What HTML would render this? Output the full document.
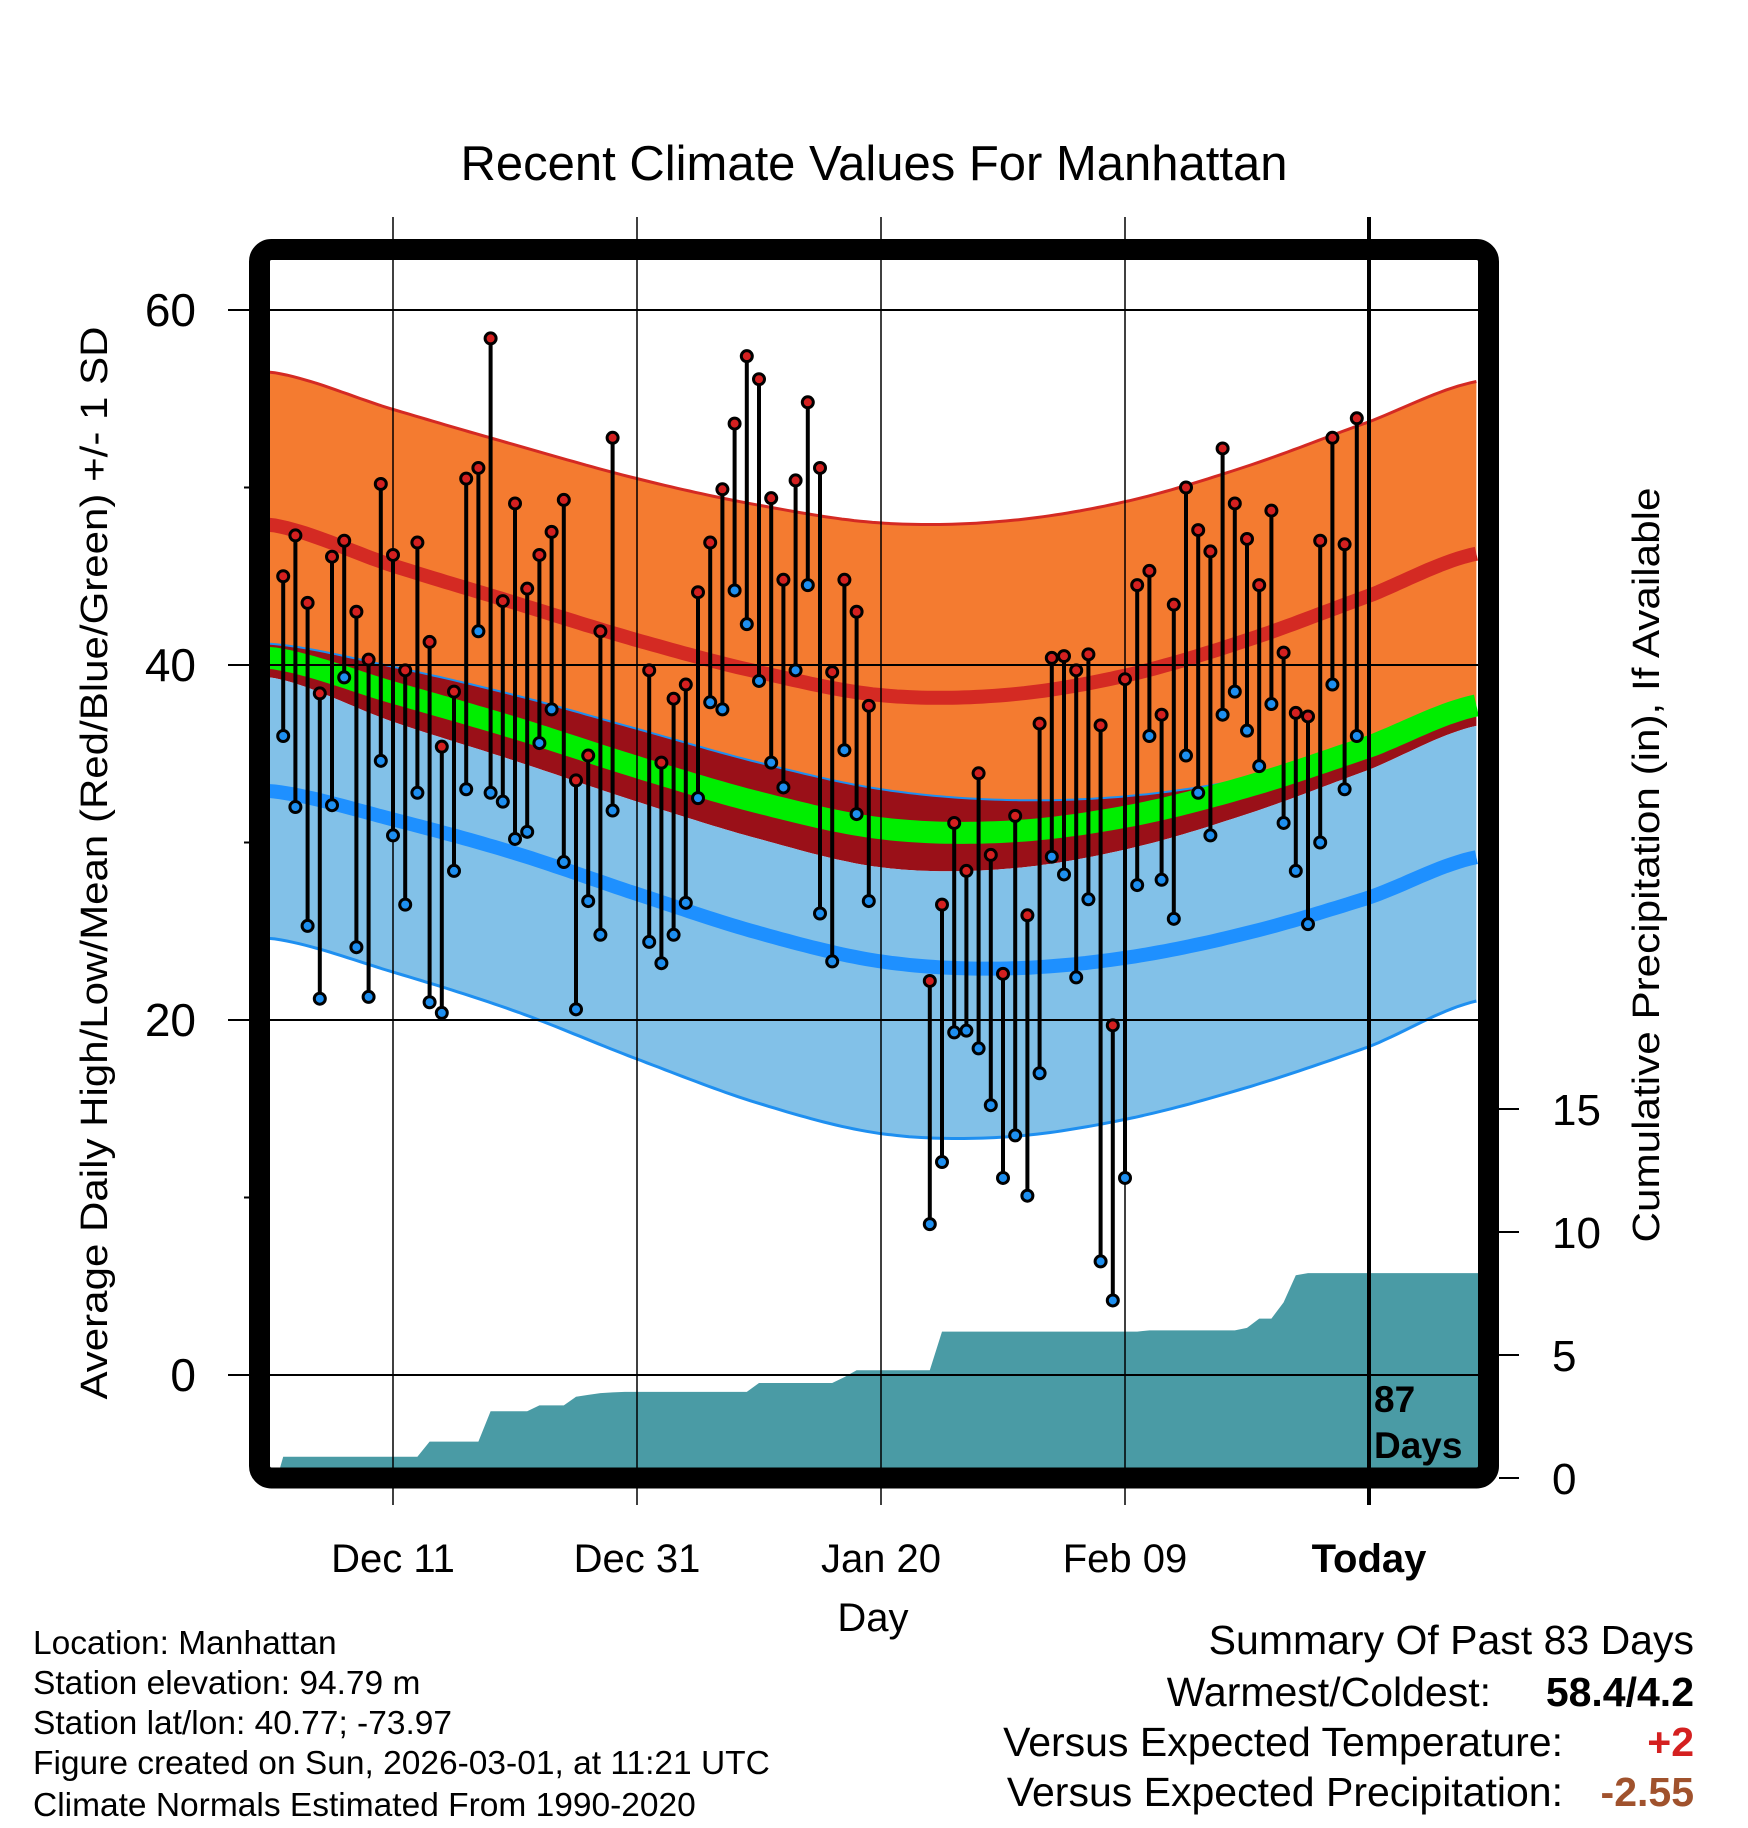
<!DOCTYPE html>
<html><head><meta charset="utf-8">
<style>
html,body{margin:0;padding:0;background:#fff;}
svg{display:block;font-family:"Liberation Sans",Arial,sans-serif;}
</style></head>
<body>
<svg id="chart" width="1748" height="1828" viewBox="0 0 1748 1828" xmlns="http://www.w3.org/2000/svg">
<defs><clipPath id="plotclip"><rect x="270" y="260" width="1208" height="1208"/></clipPath></defs>
<text x="874" y="180" font-size="49" text-anchor="middle">Recent Climate Values For Manhattan</text>
<g id="bands" clip-path="url(#plotclip)"></g>
<g id="grid"></g>
<g id="marks"></g>
<rect x="259.5" y="249.5" width="1229" height="1228.5" rx="12" fill="none" stroke="#000" stroke-width="21"/>
<g id="axes"></g>
<text x="1374" y="1412" font-size="37" font-weight="bold">87</text>
<text x="1374" y="1458" font-size="37" font-weight="bold">Days</text>
<text x="873" y="1631" font-size="40" text-anchor="middle">Day</text>
<text transform="translate(107,863) rotate(-90)" font-size="38" text-anchor="middle" textLength="1073" lengthAdjust="spacingAndGlyphs">Average Daily High/Low/Mean (Red/Blue/Green) +/- 1 SD</text>
<text transform="translate(1659,865) rotate(-90)" font-size="38" text-anchor="middle" textLength="755" lengthAdjust="spacingAndGlyphs">Cumulative Precipitation (in), If Available</text>
<g font-size="33.5">
<text x="33" y="1654">Location: Manhattan</text>
<text x="33" y="1694">Station elevation: 94.79 m</text>
<text x="33" y="1734">Station lat/lon: 40.77; -73.97</text>
<text x="33" y="1774">Figure created on Sun, 2026-03-01, at 11:21 UTC</text>
<text x="33" y="1816">Climate Normals Estimated From 1990-2020</text>
</g>
<g font-size="41">
<text x="1694" y="1654" text-anchor="end">Summary Of Past 83 Days</text>
<text x="1491" y="1706" text-anchor="end">Warmest/Coldest:</text>
<text x="1694" y="1706" text-anchor="end" font-weight="bold">58.4/4.2</text>
<text x="1563" y="1756" text-anchor="end">Versus Expected Temperature:</text>
<text x="1694" y="1756" text-anchor="end" font-weight="bold" fill="#d42020">+2</text>
<text x="1563" y="1806" text-anchor="end">Versus Expected Precipitation:</text>
<text x="1694" y="1806" text-anchor="end" font-weight="bold" fill="#a0522d">-2.55</text>
</g>
</svg>
<script>
// ---- data ----
const normDays = [-10, 0, 10, 20, 30, 40, 50, 60, 70, 80, 89];
const normalHigh = [47.9, 45.6, 43.5, 41.4, 39.6, 38.3, 38.3, 39.4, 41.4, 43.9, 46.3];
const highSD = [8.6, 8.8, 8.9, 9.1, 9.4, 9.7, 9.8, 9.8, 9.8, 9.8, 9.7];
const normalLow = [32.9, 31.3, 29.4, 27.1, 24.9, 23.3, 22.9, 23.5, 24.9, 26.9, 29.2];
const lowSD = [8.3, 8.6, 8.9, 9.3, 9.6, 9.7, 9.5, 9.1, 8.7, 8.4, 8.1];
const firstDay = -9; // days relative to Dec 11
const highs = [45,47.3,43.5,38.4,46.1,47,43,40.3,50.2,46.2,39.7,46.9,41.3,35.4,38.5,50.5,51.1,58.4,43.6,49.1,44.3,46.2,47.5,49.3,33.5,34.9,41.9,52.8,null,null,39.7,34.5,38.1,38.9,44.1,46.9,49.9,53.6,57.4,56.1,49.4,44.8,50.4,54.8,51.1,39.6,44.8,43,37.7,null,null,null,null,22.2,26.5,31.1,28.4,33.9,29.3,22.6,31.5,25.9,36.7,40.4,40.5,39.7,40.6,36.6,19.7,39.2,44.5,45.3,37.2,43.4,50,47.6,46.4,52.2,49.1,47.1,44.5,48.7,40.7,37.3,37.1,47,52.8,46.8,53.9];
const lows = [36,32,25.3,21.2,32.1,39.3,24.1,21.3,34.6,30.4,26.5,32.8,21,20.4,28.4,33,41.9,32.8,32.3,30.2,30.6,35.6,37.5,28.9,20.6,26.7,24.8,31.8,null,null,24.4,23.2,24.8,26.6,32.5,37.9,37.5,44.2,42.3,39.1,34.5,33.1,39.7,44.5,26,23.3,35.2,31.6,26.7,null,null,null,null,8.5,12,19.3,19.4,18.4,15.2,11.1,13.5,10.1,17,29.2,28.2,22.4,26.8,6.4,4.2,11.1,27.6,36,27.9,25.7,34.9,32.8,30.4,37.2,38.5,36.3,34.3,37.8,31.1,28.4,25.4,30,38.9,33,36];
const precip = [0.86,0.86,0.86,0.86,0.86,0.86,0.86,0.86,0.86,0.86,0.86,0.86,1.48,1.48,1.48,1.48,1.48,2.71,2.71,2.71,2.71,2.95,2.95,2.95,3.3,3.38,3.45,3.48,3.5,3.5,3.5,3.5,3.5,3.5,3.5,3.5,3.5,3.5,3.5,3.86,3.86,3.86,3.86,3.86,3.86,3.86,4.1,4.38,4.38,4.38,4.38,4.38,4.38,4.38,5.95,5.95,5.95,5.95,5.95,5.95,5.95,5.95,5.95,5.95,5.95,5.95,5.95,5.95,5.95,5.95,5.95,6.0,6.0,6.0,6.0,6.0,6.0,6.0,6.0,6.1,6.48,6.48,7.14,8.24,8.33,8.33,8.33,8.33,8.33];
const tempTicks = [0, 20, 40, 60];
const tempMinor = [10, 30, 50];
const precipTicks = [0, 5, 10, 15];
const dateLabels = ["Dec 11", "Dec 31", "Jan 20", "Feb 09", "Today"];
const dateDays = [0, 20, 40, 60, 80];

// ---- scales ----
const NS = "http://www.w3.org/2000/svg";
const xS = d => 393 + 12.2 * d;
const yT = t => 1375 - 17.75 * t;
const yP = p => 1478 - 24.6 * p;
const LEFT = 270, RIGHT = 1478, TOP = 260, BOT = 1468;
function mk(tag, attrs, parent) {
  const e = document.createElementNS(NS, tag);
  for (const k in attrs) e.setAttribute(k, attrs[k]);
  parent.appendChild(e);
  return e;
}
function interp(arr, d) {
  let i = 0;
  while (i < normDays.length - 2 && d > normDays[i + 1]) i++;
  const p0 = arr[Math.max(i - 1, 0)], p1 = arr[i], p2 = arr[i + 1], p3 = arr[Math.min(i + 2, arr.length - 1)];
  const t = Math.max(0, Math.min(1, (d - normDays[i]) / (normDays[i + 1] - normDays[i])));
  const t2 = t * t, t3 = t2 * t;
  return 0.5 * ((2 * p1) + (-p0 + p2) * t + (2 * p0 - 5 * p1 + 4 * p2 - p3) * t2 + (-p0 + 3 * p1 - 3 * p2 + p3) * t3);
}
const samp = [];
for (let d = -10.2; d <= 89.2; d += 0.5) samp.push(d);
const fHigh = d => interp(normalHigh, d);
const fLow = d => interp(normalLow, d);
const fHighPlus = d => interp(normalHigh, d) + interp(highSD, d);
const fHighMinus = d => interp(normalHigh, d) - interp(highSD, d);
const fLowPlus = d => interp(normalLow, d) + interp(lowSD, d);
const fLowMinus = d => interp(normalLow, d) - interp(lowSD, d);
const fMean = d => (interp(normalHigh, d) + interp(normalLow, d)) / 2;
function line(f) { return samp.map((d, i) => (i ? "L" : "M") + xS(d).toFixed(1) + "," + yT(f(d)).toFixed(1)).join(""); }
function band(fa, fb) {
  const a = samp.map((d, i) => (i ? "L" : "M") + xS(d).toFixed(1) + "," + yT(fa(d)).toFixed(1)).join("");
  const b = samp.slice().reverse().map(d => "L" + xS(d).toFixed(1) + "," + yT(fb(d)).toFixed(1)).join("");
  return a + b + "Z";
}
const bands = document.getElementById("bands");
let e;
e = mk("path", {d: band(fHighPlus, fLowPlus), fill: "#f47b30"}, bands);


e = mk("path", {d: band(fLowPlus, fHighMinus), fill: "#9a1018"}, bands);


e = mk("path", {d: band(fHighMinus, fLowMinus), fill: "#82c1e8"}, bands);


e = mk("path", {d: line(fHighPlus), fill: "none", stroke: "#d42a23", "stroke-width": 3}, bands);


e = mk("path", {d: line(fLowPlus), fill: "none", stroke: "#1e8ff0", "stroke-width": 2}, bands);


e = mk("path", {d: line(fLowMinus), fill: "none", stroke: "#1e8ff0", "stroke-width": 3}, bands);


e = mk("path", {d: line(fHigh), fill: "none", stroke: "#d42a23", "stroke-width": 14}, bands);


e = mk("path", {d: line(fLow), fill: "none", stroke: "#1e90ff", "stroke-width": 14}, bands);


e = mk("path", {d: line(fMean), fill: "none", stroke: "#00ee00", "stroke-width": 22}, bands);



// precipitation area
let pd = "M" + xS(firstDay - 0.5) + "," + yP(0);
precip.forEach((p, i) => { pd += "L" + xS(firstDay + i).toFixed(1) + "," + yP(p).toFixed(1); });
pd += "L" + RIGHT + "," + yP(precip[precip.length - 1]).toFixed(1) + "L" + RIGHT + "," + BOT + "L" + xS(firstDay - 0.5) + "," + BOT + "Z";
e = mk("path", {d: pd, fill: "#4a9ba5"}, bands);



// grid
const grid = document.getElementById("grid");
tempTicks.forEach(t => {
  const g = mk("line", {x1: 228, x2: RIGHT, y1: yT(t), y2: yT(t), stroke: "#000", "stroke-width": 2}, grid);
  
  
});
tempMinor.forEach(t => {
  const g = mk("line", {x1: 244, x2: 252, y1: yT(t), y2: yT(t), stroke: "#000", "stroke-width": 2}, grid);
  
  
});
dateDays.forEach((d, i) => {
  const last = i === dateDays.length - 1;
  const g = mk("line", {x1: xS(d), x2: xS(d), y1: 217, y2: 1505, stroke: "#000", "stroke-width": last ? 4 : 1.5}, grid);
  
  
});

// daily marks
const marks = document.getElementById("marks");
highs.forEach((h, i) => {
  const l = lows[i];
  if (h === null || l === null) return;
  const x = xS(firstDay + i);
  const s = mk("line", {x1: x, x2: x, y1: yT(h), y2: yT(l), stroke: "#000", "stroke-width": 4}, marks);
  
  
  const c1 = mk("circle", {cx: x, cy: yT(h), r: 5.5, fill: "#d42020", stroke: "#000", "stroke-width": 3}, marks);
  
  
  const c2 = mk("circle", {cx: x, cy: yT(l), r: 5.5, fill: "#1e8ff0", stroke: "#000", "stroke-width": 3}, marks);
  
  
});

// axes labels
const axes = document.getElementById("axes");
tempTicks.forEach(t => {
  const tx = mk("text", {x: 196, y: yT(t) + 16, "font-size": 46, "text-anchor": "end"}, axes);
  
  
  tx.textContent = t;
});
precipTicks.forEach(p => {
  const tk = mk("line", {x1: 1499, x2: 1519, y1: yP(p), y2: yP(p), stroke: "#000", "stroke-width": 2}, axes);
  
  
  const tx = mk("text", {x: 1552, y: yP(p) + 16, "font-size": 44}, axes);
  
  
  tx.textContent = p;
});
dateLabels.forEach((lab, i) => {
  const tx = mk("text", {x: xS(dateDays[i]), y: 1572, "font-size": 40, "text-anchor": "middle"}, axes);
  if (lab === "Today") tx.setAttribute("font-weight", "bold");
  
  
  tx.textContent = lab;
});
</script>
</body></html>
